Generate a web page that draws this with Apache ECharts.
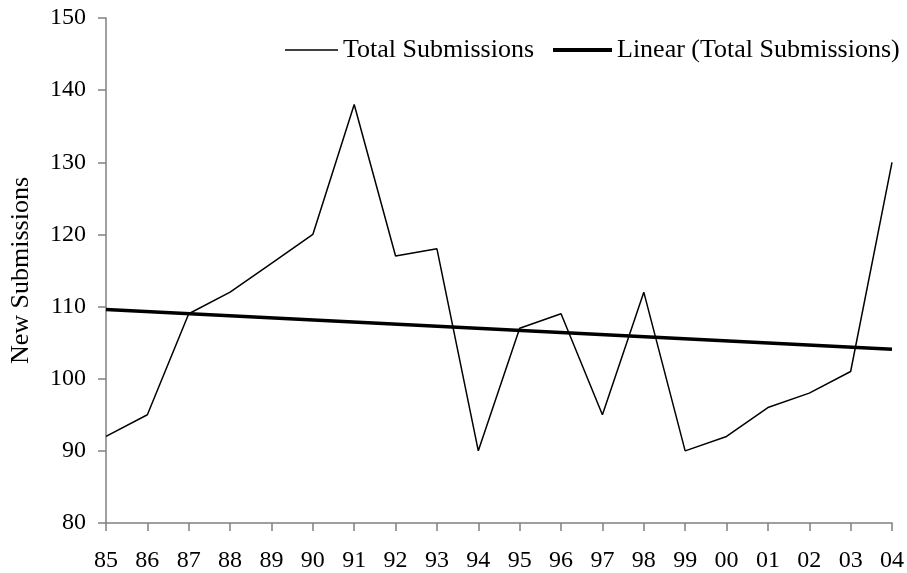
<!DOCTYPE html>
<html>
<head>
<meta charset="utf-8">
<script src="https://cdn.jsdelivr.net/npm/echarts@6/dist/echarts.min.js"></script>
<style>
  html, body { margin: 0; padding: 0; background: #fff; }
  #chart { width: 907px; height: 573px; }
</style>
</head>
<body>
<div id="chart"></div>
<script>
// data
var years = ['85', '86', '87', '88', '89', '90', '91', '92', '93', '94',
             '95', '96', '97', '98', '99', '00', '01', '02', '03', '04'];
var totalSubmissions = [92, 95, 109, 112, 116, 120, 138, 117, 118, 90,
                        107, 109, 95, 112, 90, 92, 96, 98, 101, 130];
// trend line end points (first and last year)
var trendStart = 109.6;
var trendEnd = 104.1;

var font = '"Liberation Serif", "Times New Roman", serif';
var legendText = { fontFamily: font, fontSize: 26, color: '#000' };

var chart = echarts.init(document.getElementById('chart'));
chart.setOption({
    animation: false,
    textStyle: { fontFamily: font },
    grid: { left: 105, right: 14, top: 18, bottom: 49 },
    legend: [{
        left: 280,
        top: 32,
        itemWidth: 53,
        itemHeight: 1.6,
        icon: 'rect',
        textStyle: legendText,
        data: [{ name: 'Total Submissions', itemStyle: { color: '#000' } }]
    }, {
        left: 548,
        top: 32,
        itemWidth: 59,
        itemHeight: 4,
        icon: 'rect',
        textStyle: legendText,
        data: [{ name: 'Linear (Total Submissions)', itemStyle: { color: '#000' } }]
    }],
    xAxis: {
        type: 'category',
        data: years,
        boundaryGap: false,
        axisLine: { lineStyle: { color: '#808080', width: 1.5 } },
        axisTick: { alignWithLabel: true, length: 8, lineStyle: { color: '#808080', width: 1.5 } },
        axisLabel: { color: '#000', fontSize: 24, margin: 26, fontFamily: font },
        splitLine: { show: false }
    },
    yAxis: {
        type: 'value',
        min: 80,
        max: 150,
        interval: 10,
        name: 'New Submissions',
        nameLocation: 'middle',
        nameGap: 72,
        nameTextStyle: { color: '#000', fontSize: 26, fontFamily: font },
        axisLine: { show: true, lineStyle: { color: '#808080', width: 1.5 } },
        axisTick: { show: true, length: 8, lineStyle: { color: '#808080', width: 1.5 } },
        axisLabel: { color: '#000', fontSize: 24, margin: 20, fontFamily: font },
        splitLine: { show: false }
    },
    series: [{
        name: 'Total Submissions',
        type: 'line',
        data: totalSubmissions,
        symbol: 'none',
        lineStyle: { color: '#000', width: 1.5 },
        itemStyle: { color: '#000' }
    }, {
        name: 'Linear (Total Submissions)',
        type: 'line',
        data: [[years[0], trendStart], [years[years.length - 1], trendEnd]],
        symbol: 'none',
        lineStyle: { color: '#000', width: 3.5 },
        itemStyle: { color: '#000' }
    }]
});
</script>
</body>
</html>
